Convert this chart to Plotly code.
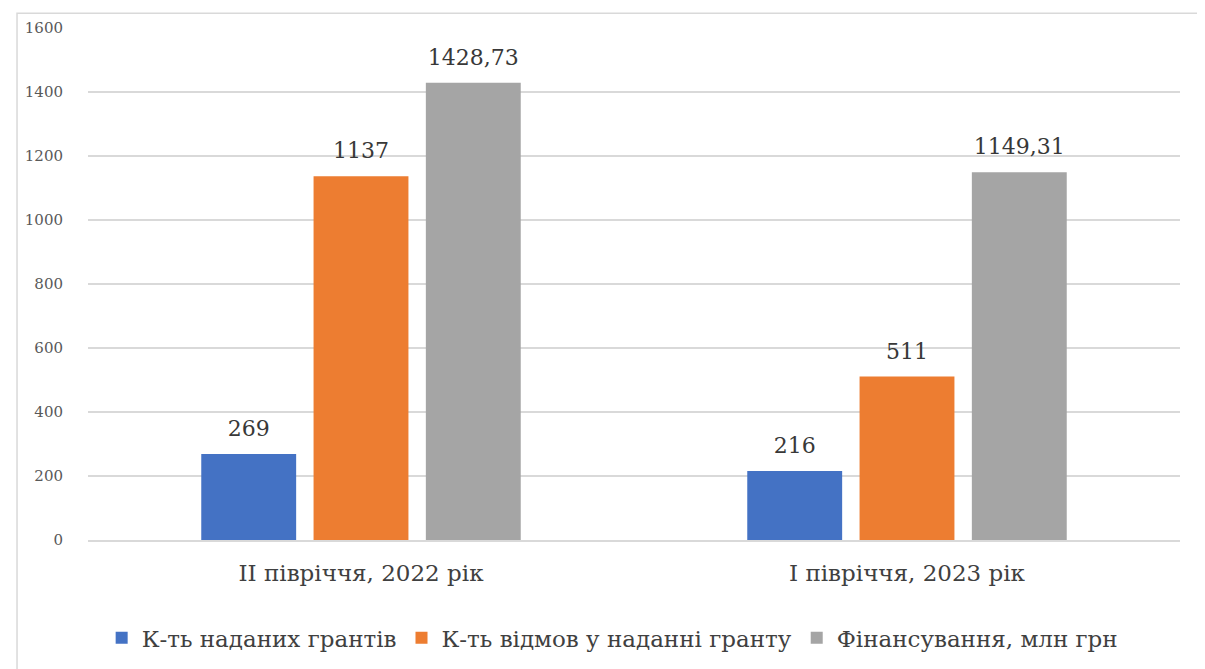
import plotly.graph_objects as go

categories = ["II півріччя, 2022 рік", "I півріччя, 2023 рік"]
series_names = ["К-ть наданих грантів", "К-ть відмов у наданні гранту", "Фінансування, млн грн"]
granted = [269, 216]
refused = [1137, 511]
funding = [1428.73, 1149.31]
funding_labels = ["1428,73", "1149,31"]
colors = ["#4472C4", "#ED7D31", "#A5A5A5"]
y_ticks = [0, 200, 400, 600, 800, 1000, 1200, 1400, 1600]

SERIF = "DejaVu Serif"

fig = go.Figure()
values = [granted, refused, funding]
labels = [[str(v) for v in granted], [str(v) for v in refused], funding_labels]
for i, (name, vals, labs, col) in enumerate(zip(series_names, values, labels, colors)):
    fig.add_trace(go.Bar(
        x=categories, y=vals, name=name, marker=dict(color=col, line=dict(width=0)),
        offsetgroup=str(i),
    ))
for i, (vals, labs) in enumerate(zip(values, labels)):
    fig.add_trace(go.Scatter(
        x=categories, y=vals, mode="markers+text", text=labs, textposition="top center",
        marker=dict(size=18, opacity=0), offsetgroup=str(i), showlegend=False,
        hoverinfo="skip", cliponaxis=False,
        textfont=dict(family=SERIF, size=22, color="#383838"),
    ))

fig.update_layout(
    width=1205, height=669,
    paper_bgcolor="white", plot_bgcolor="white",
    margin=dict(l=80, r=33, t=20, b=137),
    barmode="group", bargap=0.383, bargroupgap=0.155,
    scattermode="group", scattergap=0.383,
    font=dict(family=SERIF, color="#595959"),
    showlegend=True,
    legend=dict(orientation="h", x=0.48, xanchor="center", y=-0.191, yanchor="middle",
                font=dict(family=SERIF, size=23, color="#404040"),
                itemwidth=30, traceorder="normal"),
    xaxis=dict(showgrid=False, showline=True, linecolor="#d9d9d9", linewidth=1.5,
               ticks="", ticklabelstandoff=12,
               tickfont=dict(family=SERIF, size=23, color="#404040")),
    yaxis=dict(range=[0, 1600], tickvals=y_ticks, showgrid=True, gridcolor="#d9d9d9",
               gridwidth=1.5, zeroline=False, showline=False, ticks="",
               tickfont=dict(family=SERIF, size=15, color="#595959"),
               ticklabelstandoff=24),
    shapes=[dict(type="rect", xref="paper", yref="paper", x0=-0.065, x1=1.03, y0=-0.31, y1=1.029,
                 line=dict(color="#d9d9d9", width=1.5), layer="below")],
)

fig.write_html("out.html")
